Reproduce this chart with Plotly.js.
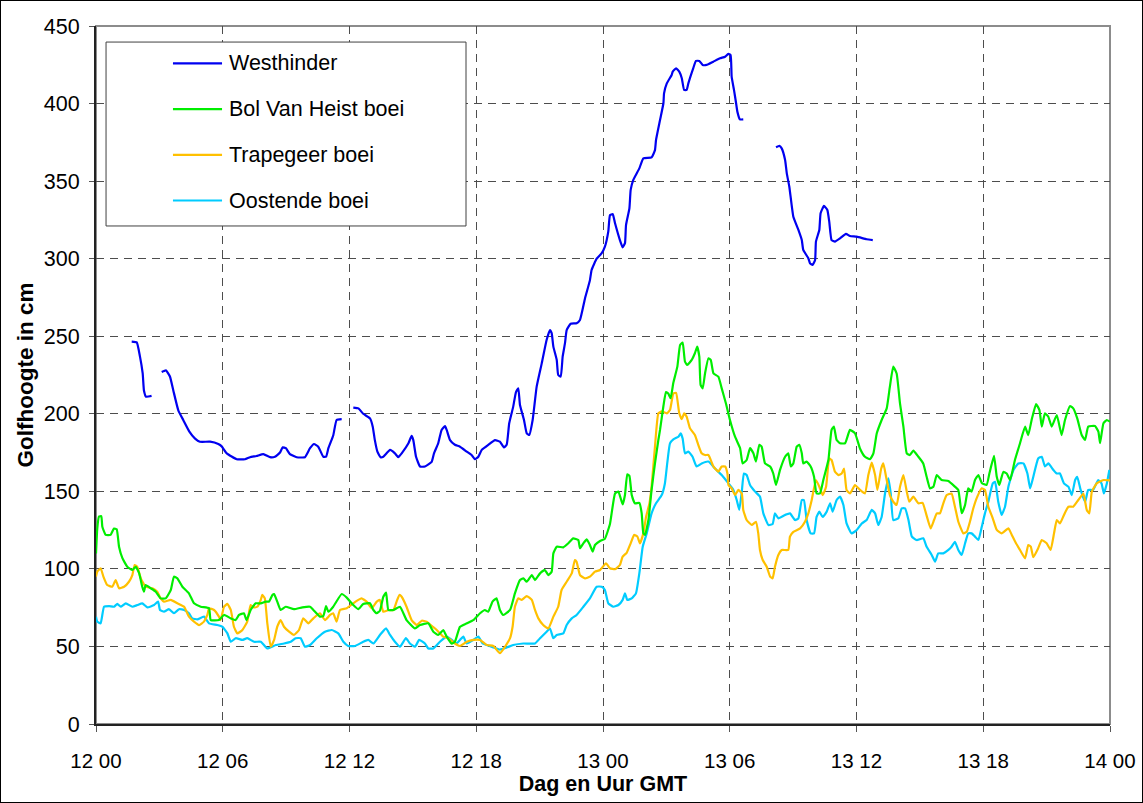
<!DOCTYPE html>
<html>
<head>
<meta charset="utf-8">
<script src="https://cdn.plot.ly/plotly-3.0.1.min.js"></script>
<style>
html,body{margin:0;padding:0;background:#fff;}
#wrap{position:relative;width:1143px;height:803px;}
#chart{width:1143px;height:803px;}
#frame{position:absolute;left:0;top:0;width:1141px;height:801px;border:1px solid #000;pointer-events:none;}
</style>
</head>
<body>
<div id="wrap"><div id="chart"></div><div id="frame"></div></div>
<script>
// Hours since 12 00 (Dag 12, 00h GMT); null = gap in record
const westhinder = [[1.69,246.5],[1.93,246],[2.08,237],[2.21,226],[2.27,215],[2.37,211],[2.63,211.5],[2.9,null],
[3.11,227],[3.31,228],[3.5,224],[3.66,215],[3.9,202],[4.13,196],[4.42,188.5],[4.69,184],[4.92,182],[5.4,182],[5.79,180.5],[5.95,179],[6.19,174.5],[6.66,170.7],[7.05,170.7],[7.29,172],[7.6,172.8],[7.92,174],[8.24,172],[8.47,172.3],[8.71,175],[8.84,178.4],[8.99,177.8],[9.18,174],[9.5,172],[9.89,172],[10.13,177.8],[10.32,180.5],[10.52,178.8],[10.76,172.3],[10.89,172.3],[11.0,177.8],[11.23,186],[11.39,196],[11.63,196.5],[11.9,null],
[12.18,204],[12.42,203.5],[12.65,200],[12.97,197],[13.1,191.7],[13.2,183],[13.32,175.6],[13.47,172],[13.6,172.3],[13.92,176.7],[14.15,174.5],[14.31,172],[14.47,174.5],[14.79,181],[14.94,185.7],[15.02,183],[15.15,172.3],[15.34,166],[15.57,166],[15.89,169],[16.0,174.5],[16.2,181],[16.36,189.6],[16.52,192],[16.6,189.6],[16.76,183],[16.99,180],[17.23,178.8],[17.55,175.6],[17.78,173.4],[17.94,170.7],[18.1,172.3],[18.26,176.7],[18.57,180],[18.89,183],[19.12,182],[19.31,178.3],[19.44,180],[19.56,193.9],[19.75,204.6],[19.88,214],[19.99,216.4],[20.07,205.7],[20.26,196],[20.39,187.4],[20.51,186.3],[20.67,196],[20.86,217.5],[21.1,232.5],[21.33,247.6],[21.49,254],[21.57,252],[21.65,243.3],[21.81,234.7],[21.88,225],[22.0,224],[22.09,236.8],[22.2,245.5],[22.28,254],[22.47,258],[22.75,258.4],[22.91,260.5],[23.15,274.5],[23.38,286],[23.46,292.7],[23.7,300],[23.94,303.5],[24.09,307.7],[24.25,317.4],[24.33,328],[24.46,328.8],[24.57,322.8],[24.8,312],[24.93,307.3],[25.04,310],[25.09,321.7],[25.25,332.4],[25.31,344.3],[25.43,350.7],[25.72,358.2],[25.91,364.7],[26.3,365.3],[26.46,370],[26.51,376.5],[26.7,389.4],[26.86,400.2],[26.89,406.6],[27.02,413],[27.25,418.4],[27.3,420.6],[27.46,422.7],[27.61,420.6],[27.73,416.3],[27.84,408.8],[27.96,408.8],[28.04,413],[28.27,422.7],[28.4,427.5],[28.56,427.5],[28.72,424.9],[28.9,424.9],[29.22,427],[29.54,429.2],[29.78,430.2],[29.93,432],[30.04,431.3],[30.09,417.4],[30.2,408.8],[30.3,400.2],[30.36,394.8],[30.48,389.8],[30.64,389.8],[31.4,null],
[32.19,371.8],[32.35,372.7],[32.46,371.1],[32.62,363.6],[32.7,355],[32.82,346.4],[33.01,327],[33.25,318.5],[33.41,312],[33.48,305.6],[33.72,300.3],[33.8,297],[33.92,296],[34.04,299.2],[34.08,311],[34.24,318.5],[34.3,329.3],[34.46,334],[34.62,331.4],[34.71,323.9],[34.82,312],[34.98,311],[35.22,313.1],[35.5,316],[35.69,314.6],[36.01,314.2],[36.48,312.5],[36.77,312]];

const bolVanHeist = [[0,110],[0.06,126],[0.14,133.7],[0.25,134],[0.3,127.2],[0.46,121.9],[0.69,121.9],[0.85,126],[0.98,125.5],[1.09,114.3],[1.25,106.9],[1.48,101.4],[1.72,99.3],[1.88,101.4],[2.04,97.2],[2.19,88.5],[2.27,85.3],[2.35,89.6],[2.59,87.5],[2.83,85.3],[3.06,81],[3.3,81],[3.54,86.4],[3.69,95],[3.85,93.9],[4.09,88.5],[4.4,84.2],[4.64,77.8],[4.96,75.6],[5.35,74.6],[5.43,67],[5.82,67],[6.06,70.3],[6.38,68.1],[6.61,67],[6.77,70.3],[7.0,71.4],[7.13,67],[7.32,73.5],[7.56,77.8],[7.8,77.8],[8.03,78.9],[8.19,78.9],[8.35,83.2],[8.43,83.8],[8.58,78.9],[8.74,73.5],[8.98,75.6],[9.37,74],[9.77,75.2],[10.13,75.6],[10.29,73.5],[10.6,69.2],[10.76,69.6],[10.89,76],[11.0,72.4],[11.23,75.6],[11.63,83.8],[11.87,81.5],[12.18,76.7],[12.42,74],[12.65,77.4],[12.97,77.8],[13.13,73.5],[13.29,71.4],[13.44,73],[13.6,82],[13.73,84.7],[13.84,73.5],[14.08,73.5],[14.39,75.6],[14.7,67],[15.1,61.6],[15.34,63.8],[15.73,64.9],[15.97,59.5],[16.2,57.4],[16.44,60.6],[16.6,56.3],[16.84,51.8],[16.99,53],[17.23,62.7],[17.55,64.9],[17.86,67],[18.18,71.4],[18.41,73.5],[18.57,72.4],[18.77,78.9],[18.96,81],[19.12,73.5],[19.28,70.3],[19.6,73.5],[19.83,84.2],[20.07,92.8],[20.23,93.9],[20.39,91.7],[20.63,96],[20.78,92.8],[21.02,97.1],[21.25,99.3],[21.41,96],[21.57,98.2],[21.65,110],[21.81,114.3],[22.12,113.9],[22.36,116.5],[22.59,119.7],[22.83,118.6],[22.91,113.3],[23.07,116.5],[23.23,119],[23.38,115.4],[23.51,111.1],[23.62,115.4],[23.86,118],[24.09,119.5],[24.33,129],[24.57,148.6],[24.73,149.8],[24.93,141.5],[25.04,147.6],[25.15,161],[25.25,160],[25.36,147.6],[25.51,142.3],[25.72,142.5],[25.83,136],[25.91,122.9],[25.99,121.9],[26.15,131.5],[26.3,150.9],[26.46,168],[26.62,183.1],[26.7,189.6],[26.86,205],[26.98,214],[27.09,213],[27.2,210],[27.33,220],[27.52,230.4],[27.65,244.4],[27.77,245.9],[27.88,233.6],[27.99,231.5],[28.2,234.7],[28.35,239],[28.46,243.3],[28.56,236.8],[28.62,218.6],[28.72,216.4],[28.83,226],[28.99,235.8],[29.1,234.7],[29.23,226],[29.46,223.9],[29.62,216.4],[29.82,206.6],[30.01,196],[30.25,185.2],[30.49,177.8],[30.61,168],[30.8,170.2],[30.96,177.8],[31.12,174.5],[31.24,169.2],[31.4,180],[31.51,178.8],[31.67,168],[31.91,166],[32.06,161.5],[32.19,154.1],[32.38,163.8],[32.62,172.3],[32.77,174.5],[32.89,166],[33.01,168],[33.17,178.8],[33.29,180],[33.41,174.5],[33.48,168],[33.64,169.2],[33.83,166],[33.99,159.4],[34.11,148.6],[34.27,148.6],[34.43,157.3],[34.67,170.2],[34.82,189.6],[34.93,191.7],[35.06,183.1],[35.22,181],[35.46,181],[35.69,189.6],[35.93,187.4],[36.17,177.5],[36.4,172.3],[36.64,170.7],[36.8,174.5],[36.96,187.4],[37.19,196],[37.43,203.5],[37.58,217.5],[37.74,230.4],[37.9,226],[38.06,206.6],[38.22,191.7],[38.38,174.5],[38.53,173.4],[38.69,176.2],[38.93,172.3],[39.16,168],[39.32,159.4],[39.48,151.9],[39.64,153],[39.8,160.5],[40.03,157.3],[40.35,156.7],[40.66,153],[40.82,150.9],[40.98,135.9],[41.14,141.2],[41.29,151.9],[41.45,149.8],[41.61,157.3],[41.77,160.5],[41.93,155.4],[42.16,154.1],[42.29,161.5],[42.51,172.8],[42.64,159.4],[42.76,154.1],[42.95,162.5],[43.11,161.5],[43.27,157.3],[43.5,170.2],[43.74,181],[43.98,191.7],[44.13,186.3],[44.29,196],[44.5,206.3],[44.66,202.4],[44.77,191.7],[44.92,200.3],[45.08,198.1],[45.24,191.7],[45.48,199.2],[45.71,186.3],[45.87,196],[46.11,205],[46.26,203.5],[46.45,197],[46.66,186.3],[46.82,183.1],[46.97,191.7],[47.29,192.1],[47.45,188.5],[47.53,181],[47.69,193.9],[47.85,196],[48,194.9]];

const trapegeer = [[0,95],[0.06,98.2],[0.22,100.4],[0.35,95],[0.53,89.6],[0.77,88.5],[0.93,92.8],[1.09,87.5],[1.33,88.5],[1.56,91.7],[1.72,96],[1.83,102.5],[1.95,101.4],[2.12,93.9],[2.35,88.5],[2.67,87.5],[2.9,85.3],[3.06,81],[3.22,78.9],[3.54,80],[3.85,77.8],[4.17,75.6],[4.4,69.2],[4.64,66],[4.88,63.8],[5.11,66],[5.27,70.3],[5.35,74.6],[5.59,73.5],[5.82,69.2],[5.9,67],[6.06,75.6],[6.22,77.4],[6.38,73.5],[6.53,62.7],[6.69,58.4],[6.93,60.6],[7.16,66],[7.32,76.7],[7.48,75.2],[7.64,75.6],[7.8,80],[7.87,83.2],[7.99,81],[8.11,64.9],[8.27,49.8],[8.43,54.2],[8.58,62.7],[8.74,67],[8.9,62.7],[9.14,59.5],[9.37,57.4],[9.61,60.6],[9.81,68.1],[10.05,64.9],[10.29,68.1],[10.6,71.4],[10.84,67],[11.08,70.3],[11.23,71.4],[11.39,66],[11.55,73.5],[11.87,74.6],[12.18,77.8],[12.42,80],[12.57,81],[12.81,78.9],[13.05,74.6],[13.29,78.9],[13.44,80],[13.6,72.4],[13.84,73.5],[14.08,73.5],[14.23,78.9],[14.36,83.2],[14.47,82],[14.7,75.6],[14.94,67],[15.18,63.8],[15.42,66.6],[15.65,66],[15.89,63.2],[16.13,60.6],[16.44,56.3],[16.68,55.3],[16.99,51.9],[17.23,50.3],[17.55,53],[17.86,54.2],[18.18,54.2],[18.5,50.9],[18.81,50.3],[19.12,45.6],[19.36,49.8],[19.6,55.3],[19.72,62.7],[19.83,75.6],[19.99,81],[20.15,80],[20.39,82.5],[20.63,80],[20.78,73.5],[20.94,68.1],[21.17,63.8],[21.41,61.6],[21.65,69.2],[21.88,75.6],[22.04,86.4],[22.28,91.7],[22.52,97.1],[22.67,105.7],[22.75,104.6],[22.91,96],[23.15,93.9],[23.38,95],[23.62,98.2],[23.86,99.3],[24.14,103.6],[24.33,100.4],[24.57,99.8],[24.8,102.5],[24.93,107.9],[25.12,110.4],[25.31,116.5],[25.47,121.9],[25.63,120.8],[25.75,116.5],[25.91,122.9],[26.04,133.7],[26.2,142.3],[26.3,153],[26.46,178.8],[26.62,200.3],[26.78,201.5],[27.02,200.3],[27.17,202.4],[27.33,213.1],[27.46,213.5],[27.61,200.3],[27.73,196.5],[27.84,200.3],[27.96,198.1],[28.12,190.6],[28.35,186.3],[28.51,180],[28.67,174.5],[28.83,173.4],[28.99,173.4],[29.23,166],[29.46,162.7],[29.62,166],[29.78,166],[29.89,161.5],[29.94,154.1],[30.09,151.9],[30.25,147.6],[30.41,150.9],[30.57,148.6],[30.64,138],[30.8,131.5],[31.04,128.3],[31.24,130.4],[31.35,122.9],[31.43,112.2],[31.56,105.7],[31.75,101.4],[31.91,95],[32.03,93.9],[32.14,101.4],[32.3,109],[32.46,112.2],[32.77,112.2],[32.85,120.8],[33.01,123.9],[33.33,126.1],[33.56,130.4],[33.72,135.8],[33.88,144.4],[34.08,157.3],[34.24,153],[34.4,147.6],[34.56,153],[34.71,171.2],[34.82,170.2],[34.98,162.7],[35.14,160.5],[35.3,161.5],[35.41,164.7],[35.53,150.9],[35.69,148.6],[35.93,154.1],[36.17,150.9],[36.4,148.6],[36.56,160.5],[36.72,168.5],[36.88,160.5],[36.99,150.9],[37.17,164.7],[37.27,168],[37.4,159.4],[37.58,147.6],[37.74,143.3],[37.9,141.2],[38.06,153],[38.22,160.5],[38.38,149.8],[38.5,143.3],[38.69,146.6],[38.93,142.3],[39.13,142.6],[39.29,135.8],[39.51,126.1],[39.67,131.5],[39.8,135.8],[39.95,135.8],[40.11,142.3],[40.27,147.6],[40.5,148.6],[40.66,140.1],[40.82,130.4],[41.06,122.9],[41.22,123.9],[41.37,130.4],[41.53,139.1],[41.72,146.6],[41.93,152],[42.08,150.9],[42.24,140.1],[42.45,132.6],[42.64,125.1],[42.87,122.9],[43.19,126.1],[43.35,121.9],[43.55,116.5],[43.74,112.2],[43.98,106.8],[44.13,115.4],[44.25,114.3],[44.37,107.5],[44.6,113.3],[44.77,118.6],[45.0,116.5],[45.19,112.2],[45.35,122.9],[45.48,131.5],[45.63,129.3],[45.82,134.8],[46.03,140.1],[46.26,140.1],[46.5,144.4],[46.74,148.6],[46.9,138],[47.02,135.8],[47.14,149.8],[47.37,155.1],[47.69,157.3],[48,157]];

const oostende = [[0,69.2],[0.06,66],[0.22,64.9],[0.38,75.6],[0.62,76],[0.85,75.6],[1.01,77.4],[1.17,75.6],[1.41,77.8],[1.72,75.6],[1.96,76.7],[2.19,77.8],[2.43,75.2],[2.75,76.7],[2.94,78.9],[3.03,73.5],[3.22,72.4],[3.46,74],[3.69,71.4],[3.93,74],[4.17,73.5],[4.4,71.4],[4.56,68.1],[4.8,67.5],[5.11,69.2],[5.35,64.9],[5.74,63.8],[5.98,62.7],[6.22,58.4],[6.38,53],[6.61,55.3],[6.93,54.2],[7.16,55.3],[7.48,53],[7.8,53],[8.11,48.7],[8.51,50.9],[8.9,51.9],[9.22,53],[9.45,55.3],[9.69,55.3],[9.89,49.8],[10.13,50.9],[10.45,55.3],[10.84,59.5],[11.16,60.6],[11.47,58.4],[11.71,53],[11.94,50.3],[12.26,50.3],[12.65,53],[12.89,54.2],[13.13,51.9],[13.44,57.4],[13.73,61.7],[13.92,57.4],[14.15,53],[14.39,49.8],[14.67,55.3],[14.86,51.9],[15.1,49.8],[15.3,54.2],[15.57,51.9],[15.73,48.7],[15.97,48.7],[16.28,53],[16.6,56.3],[16.84,54.2],[17.07,51.9],[17.23,54.2],[17.39,56.3],[17.55,51.9],[17.86,54.2],[18.1,56.3],[18.3,51.9],[18.5,50.9],[18.81,49.4],[19.12,48],[19.44,49.3],[19.75,50.9],[20.23,51.9],[20.78,51.9],[21.02,55.3],[21.33,59.5],[21.49,61.6],[21.65,55.3],[21.81,57.4],[22.12,58.4],[22.28,63.8],[22.52,68.1],[22.75,70.3],[23.07,75.6],[23.38,81],[23.7,88.5],[23.94,88.5],[24.09,86.4],[24.25,77.8],[24.49,75.6],[24.73,76.7],[24.93,80],[25.04,84.2],[25.15,80],[25.36,81],[25.56,84.2],[25.72,97.1],[25.88,114.3],[26.07,122.9],[26.3,135.8],[26.51,142.3],[26.78,147.6],[26.93,155.1],[27.04,168],[27.17,180.9],[27.33,183.5],[27.57,185.2],[27.68,187.4],[27.77,184.1],[27.88,174.5],[28.04,175.6],[28.24,172.3],[28.43,166],[28.67,168],[28.99,169.2],[29.3,164.7],[29.62,160.5],[29.94,155.1],[30.17,150.9],[30.33,144.4],[30.45,138],[30.57,149.8],[30.67,161.5],[30.8,160.5],[30.96,154.1],[31.2,149.8],[31.43,146.6],[31.59,135.8],[31.83,128.3],[32.03,128.9],[32.14,135.8],[32.3,132.6],[32.62,134.8],[32.85,135.8],[33.09,131.5],[33.25,132.6],[33.41,144.4],[33.51,144.4],[33.64,131.5],[33.83,122.9],[33.99,122.9],[34.11,133.5],[34.24,136.9],[34.4,133.5],[34.59,136.9],[34.75,142.3],[34.87,136.9],[35.06,144.4],[35.22,146.6],[35.38,141.2],[35.53,129.3],[35.77,122.9],[36.01,125.1],[36.25,129.3],[36.48,131.5],[36.72,138],[36.88,135.8],[37.03,128.3],[37.19,133.5],[37.35,148.6],[37.51,158.4],[37.62,148.6],[37.74,131.5],[37.98,132.6],[38.14,139],[38.3,139],[38.46,131.5],[38.62,120.8],[38.85,118.6],[39.16,119.7],[39.32,114.3],[39.56,109],[39.72,104.6],[39.87,110],[40.11,110],[40.35,112.2],[40.5,114.3],[40.66,117.5],[40.82,112.2],[40.98,109],[41.14,116.5],[41.29,122.9],[41.45,122.9],[41.61,120.8],[41.77,118.6],[41.93,127.2],[42.08,135.8],[42.24,143.3],[42.45,155.1],[42.56,156.1],[42.71,143.3],[42.87,134.8],[43.03,140.1],[43.19,153],[43.43,163.8],[43.66,168],[43.9,168],[44.09,161.5],[44.22,151.9],[44.37,159.4],[44.6,171.2],[44.77,172.3],[44.92,166],[45.08,168],[45.32,163.8],[45.48,161.5],[45.63,161.5],[45.82,155.1],[46.03,153],[46.19,147.6],[46.35,157.3],[46.45,159.4],[46.61,150.9],[46.82,143.3],[46.97,150.9],[47.2,150.9],[47.44,157.3],[47.6,155.1],[47.71,148.6],[47.85,155.1],[47.97,163.8]];

const seriesNames = ["Westhinder", "Bol Van Heist boei", "Trapegeer boei", "Oostende boei"];
const seriesColors = ["#0000F0", "#00EE00", "#FFC000", "#00CCFF"];
const seriesData = [westhinder, bolVanHeist, trapegeer, oostende];

const tickHours = [0, 6, 12, 18, 24, 30, 36, 42, 48];
const tickLabels = ["12 00", "12 06", "12 12", "12 18", "13 00", "13 06", "13 12", "13 18", "14 00"];
const yTicks = [0, 50, 100, 150, 200, 250, 300, 350, 400, 450];

const FONT = "Liberation Sans, Arial, sans-serif";

const traces = seriesData.map((d, i) => ({
  type: "scatter",
  mode: "lines",
  name: seriesNames[i],
  x: d.map(p => p[0]),
  y: d.map(p => p[1]),
  connectgaps: false,
  line: {color: seriesColors[i], width: 2.2, shape: "spline", smoothing: 0.4},
  showlegend: false,
  hoverinfo: "skip"
}));
const ordered = [traces[3], traces[2], traces[1], traces[0]];

const shapes = [
  {type: "rect", xref: "paper", yref: "paper", x0: 0, x1: 1, y0: 0, y1: 1,
   line: {color: "#8c8c8c", width: 2}, layer: "below"},
  {type: "rect", xref: "paper", yref: "paper", x0: 0.0099, x1: 0.3649, y0: 0.7135, y1: 0.977,
   line: {color: "#404040", width: 1}, fillcolor: "#ffffff", layer: "above"}
];
const annotations = [];
seriesNames.forEach((n, i) => {
  const yy = 0.9465 - i * 0.0655;
  shapes.push({type: "line", xref: "paper", yref: "paper", x0: 0.0759, x1: 0.1243, y0: yy, y1: yy,
    line: {color: seriesColors[i], width: 2.2}, layer: "above"});
  annotations.push({xref: "paper", yref: "paper", x: 0.1292, y: yy, xanchor: "left", yanchor: "middle",
    text: n, showarrow: false, font: {family: FONT, size: 21.5, color: "#000"}});
});

const layout = {
  width: 1143, height: 803,
  margin: {l: 96, r: 33, t: 26, b: 79},
  paper_bgcolor: "#ffffff", plot_bgcolor: "#ffffff",
  font: {family: FONT, size: 21, color: "#000"},
  showlegend: false,
  xaxis: {
    range: [0, 48], tickvals: tickHours, ticktext: tickLabels,
    showgrid: true, gridcolor: "#4d4d4d", gridwidth: 1, griddash: "8px,6px",
    zeroline: false, showline: true, linecolor: "#222222", linewidth: 2,
    ticks: "outside", ticklen: 6, tickcolor: "#555555", tickwidth: 1,
    ticklabelstandoff: 11,
    tickfont: {family: FONT, size: 20.5, color: "#000"},
    title: {text: "Dag en Uur GMT", font: {family: FONT, size: 21.5, color: "#000", weight: "bold"}, standoff: 1}
  },
  yaxis: {
    range: [0, 450], tickvals: yTicks,
    showgrid: true, gridcolor: "#4d4d4d", gridwidth: 1, griddash: "8px,6px",
    zeroline: false, showline: true, linecolor: "#222222", linewidth: 2,
    ticks: "outside", ticklen: 5, tickcolor: "#555555", tickwidth: 1,
    ticklabelstandoff: 5,
    tickfont: {family: FONT, size: 21.5, color: "#000"},
    title: {text: "Golfhoogte in cm", font: {family: FONT, size: 22.5, color: "#000", weight: "bold"}, standoff: 4}
  },
  shapes: shapes,
  annotations: annotations
};

Plotly.newPlot("chart", ordered, layout, {displayModeBar: false, staticPlot: true});
</script>
</body>
</html>
